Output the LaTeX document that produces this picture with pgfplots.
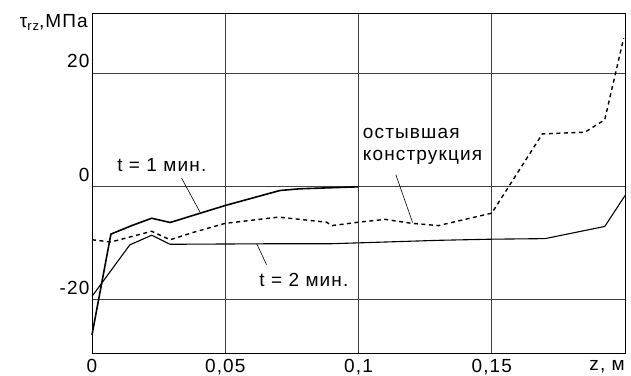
\documentclass[border=0pt]{standalone}
\usepackage{fontspec}
\setmainfont{Liberation Sans}
\newfontfamily\lsfont{Liberation Sans}[LetterSpace=6]
\usepackage{pgfplots}
\pgfplotsset{compat=1.18}
\newcommand{\ff}{\lsfont\fontsize{19}{22}\selectfont}
\begin{document}
\begin{tikzpicture}
\begin{axis}[
  name=ax,
  scale only axis,
  width=533pt, height=340pt,
  xmin=0, xmax=0.2, ymin=-29.4, ymax=30.65,
  axis line style={black, line width=0.9pt},
  xtick={0,0.05,0.1,0.15,0.2},
  xticklabels={0,{0,05},{0,1},{0,15},},
  ytick={-20,0,20},
  yticklabels={-20,0,20},
  major tick length=0pt,
  grid=major,
  major grid style={black!75, line width=0.8pt},
  tick label style={font=\ff},
  xticklabel style={yshift=-3pt},
  yticklabel style={yshift=12pt, xshift=1pt},
  clip=false,
]
\addplot[black, line width=1.6pt] coordinates {
(0,-26.2) (0.0071,-8.4) (0.0149,-6.9) (0.0224,-5.6) (0.0293,-6.35) (0.05,-3.35) (0.0705,-0.7) (0.078,-0.4) (0.1,-0.05)
};
\addplot[black, line width=1.1pt] coordinates {
(0,-19.4) (0.0142,-10.3) (0.0224,-8.6) (0.0293,-10.2) (0.05,-10.15) (0.07,-10.1) (0.09,-10.1) (0.11,-9.8) (0.13,-9.5) (0.15,-9.3) (0.17,-9.2) (0.1924,-7.05) (0.2,-1.6)
};
\addplot[black, line width=1.4pt, dash pattern=on 4pt off 3.5pt] coordinates {
(0,-9.4) (0.0071,-9.8) (0.0224,-7.9) (0.0293,-9.4) (0.038,-8.1) (0.05,-6.5) (0.07,-5.4) (0.088,-6.3) (0.09,-6.9) (0.1,-6.3) (0.11,-5.8) (0.12,-6.5) (0.13,-6.9) (0.15,-4.7) (0.169,9.3) (0.185,9.6) (0.1924,11.8) (0.1995,26.2)
};
\draw[black, line width=0.6pt] (axis cs:0.0336,1.5) -- (axis cs:0.0405,-4.5);
\draw[black, line width=0.6pt] (axis cs:0.0618,-10.1) -- (axis cs:0.0655,-13.8);
\draw[black, line width=0.6pt] (axis cs:0.114,2.1) -- (axis cs:0.1203,-6.35);
\node[font=\ff] at (axis cs:0.0262,3.8) {t = 1 мин.};
\node[font=\ff] at (axis cs:0.0795,-16.5) {t = 2 мин.};
\node[font=\ff, align=left, anchor=west, inner sep=0pt] at (axis cs:0.1016,7.15) {остывшая\\конструкция};
\node[font=\ff, anchor=east, inner sep=0pt] at ([yshift=-14pt]rel axis cs:1,0) {z, м};
\node[font=\ff, anchor=east, inner sep=0pt] at (axis cs:-0.0015,29.0) {τ\raisebox{-0.35ex}{\fontsize{13}{13}\selectfont rz},МПа};
\end{axis}
\pgfresetboundingbox
\path[use as bounding box] ([xshift=-92pt,yshift=-23pt]ax.south west) rectangle ([xshift=6pt,yshift=13pt]ax.north east);
\end{tikzpicture}
\end{document}
